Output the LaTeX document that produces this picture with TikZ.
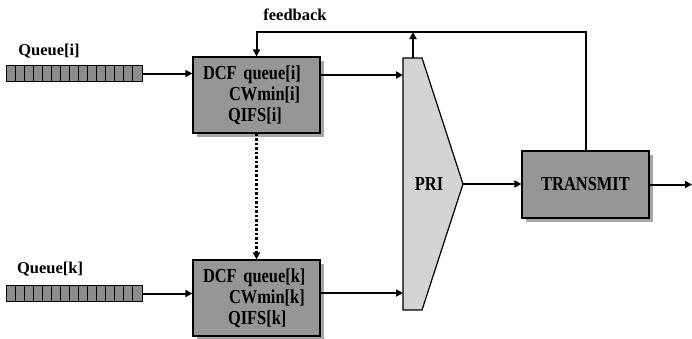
\documentclass[tikz,border=0pt]{standalone}
\usepackage{fontspec}
\setmainfont{Liberation Serif}
\newfontfamily\boxfont{Liberation Serif}[FakeStretch=0.83]
\usetikzlibrary{arrows.meta,shadows}
\definecolor{boxgray}{HTML}{969696}
\definecolor{prigray}{HTML}{D4D4D4}
\definecolor{qgray}{HTML}{8C8C8C}
\tikzset{every path/.style={line width=2pt}, >={Triangle[length=7pt,width=7pt]}}
\tikzset{
  dcfbox/.style={draw, line width=1.2pt, fill=boxgray, minimum width=127pt, minimum height=76pt,
    text width=107pt, inner xsep=10pt, align=left,
    font=\boxfont\bfseries\fontsize{19.8}{20.8}\selectfont,
    drop shadow={shadow xshift=3.5pt, shadow yshift=-3.5pt, fill=black!35, opacity=1}},
  txbox/.style={dcfbox, minimum height=67pt, text width=, align=center},
  qstrip/.style={draw, line width=1.2pt, fill=qgray, minimum width=136pt, minimum height=16pt, inner sep=0pt},
  lbl/.style={font=\bfseries\fontsize{16.5}{18}\selectfont, inner sep=0pt}
}
\begin{document}
\begin{tikzpicture}[x=1pt, y=-1pt]
  \useasboundingbox (0,0) rectangle (692,338);
  \node[lbl] (qlabi) at (49,51) {Queue[i]};
  \node[lbl] (qlabk) at (50,269) {Queue[k]};
  \node[lbl] (fblab) at (295,15) {feedback};
  \node[qstrip] (qi) at (74.5,73.5) {};
  \node[qstrip] (qk) at (74.5,293.5) {};
  \foreach \q in {qi,qk}
    \foreach \c in {1,...,14}
      \draw[line width=0.8pt] ([xshift=\c*136/15 pt]\q.north west) -- ([xshift=\c*136/15 pt]\q.south west);
  \node[dcfbox] (dcfi) at (256.5,95) {DCF queue[i]\\\hspace*{26pt}CWmin[i]\\\hspace*{25pt}QIFS[i]};
  \node[dcfbox] (dcfk) at (256.5,298) {DCF queue[k]\\\hspace*{26pt}CWmin[k]\\\hspace*{25pt}QIFS[k]};
  \draw[line width=1.2pt, fill=prigray] (403,58) -- (422,58) -- (463,184) -- (422,310) -- (403,310) -- cycle;
  \node[font=\boxfont\bfseries\fontsize{19.8}{20.8}\selectfont] (pri) at (429,184) {PRI};
  \coordinate (pritop) at (413,58);
  \coordinate (pritip) at (463,184);
  \coordinate (priini) at (403,75);
  \coordinate (priink) at (403,293);
  \node[txbox] (tx) at (585.5,184.5) {TRANSMIT};
  \coordinate (fbline) at (0,32);
  \coordinate (out) at (692,184.5);

  \draw[->] (qi.east) -- (qi.east -| dcfi.west);
  \draw[->] (qk.east) -- (qk.east -| dcfk.west);
  \draw[->] (dcfi.east |- priini) -- (priini);
  \draw[->] (dcfk.east |- priink) -- (priink);
  \draw[->, line width=2.5pt, dash pattern=on 2.5pt off 2pt] (dcfi.south) -- (dcfk.north);
  \draw[->] (pritip) -- (tx.west |- pritip);
  \draw[->] (tx.east) -- (out);
  \draw[->] (tx.north) -- (tx.north |- fbline) -| (dcfi.north);
  \draw[->] (pritop) -- (pritop |- fbline);
\end{tikzpicture}
\end{document}
